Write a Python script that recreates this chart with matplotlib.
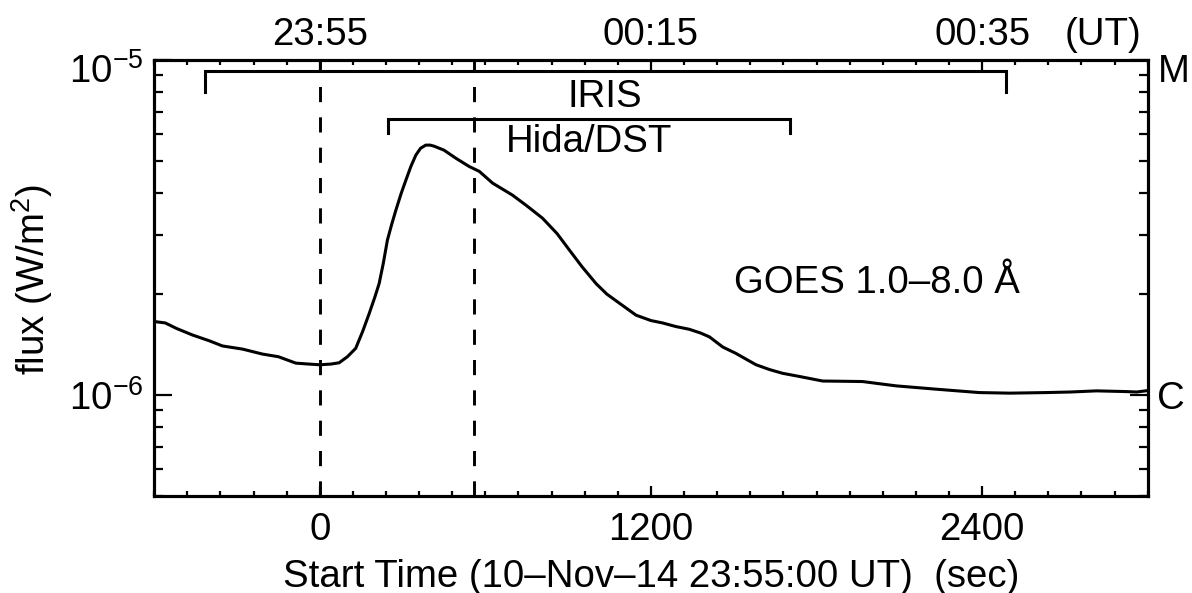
import matplotlib
matplotlib.use('Agg')
import matplotlib.pyplot as plt
import matplotlib.ticker as mticker
import matplotlib.transforms as mtransforms
import numpy as np

# ---------------- data ----------------
time_sec = [-600, -560, -520, -462, -400, -353, -280, -208, -150, -87, -40, 0,
            40, 70, 100, 130, 155, 179, 200, 215, 230, 245, 260, 276, 295, 312,
            330, 348, 365, 384, 400, 414, 450, 493, 541, 578, 626, 698, 750, 807,
            860, 904, 950, 1001, 1040, 1085, 1146, 1200, 1242, 1290, 1339, 1380,
            1412, 1460, 1508, 1545, 1581, 1630, 1677, 1738, 1822, 1900, 1967,
            2088, 2233, 2390, 2500, 2632, 2720, 2814, 2922, 2960, 3000]
flux = [1.656e-6, 1.64e-6, 1.58e-6, 1.51e-6, 1.45e-6, 1.40e-6, 1.37e-6, 1.324e-6,
        1.30e-6, 1.244e-6, 1.236e-6, 1.23e-6, 1.236e-6, 1.247e-6, 1.30e-6,
        1.377e-6, 1.545e-6, 1.75e-6, 1.965e-6, 2.15e-6, 2.47e-6, 2.90e-6,
        3.22e-6, 3.57e-6, 4.0e-6, 4.38e-6, 4.81e-6, 5.20e-6, 5.45e-6, 5.57e-6,
        5.57e-6, 5.53e-6, 5.38e-6, 5.09e-6, 4.81e-6, 4.65e-6, 4.29e-6, 3.95e-6,
        3.67e-6, 3.37e-6, 3.03e-6, 2.71e-6, 2.415e-6, 2.15e-6, 2.0e-6, 1.88e-6,
        1.73e-6, 1.667e-6, 1.64e-6, 1.60e-6, 1.57e-6, 1.53e-6, 1.49e-6, 1.39e-6,
        1.33e-6, 1.278e-6, 1.23e-6, 1.19e-6, 1.16e-6, 1.135e-6, 1.10e-6,
        1.098e-6, 1.096e-6, 1.064e-6, 1.04e-6, 1.016e-6, 1.012e-6, 1.016e-6,
        1.02e-6, 1.028e-6, 1.023e-6, 1.02e-6, 1.03e-6]

x_limits = [-600, 3000]
y_limits = [5e-7, 1e-5]
xtick_values = [0, 1200, 2400]
xtick_labels = ['0', '1200', '2400']
top_tick_labels = ['23:55', '00:15', '00:35']
ytick_values = [1e-6, 1e-5]
goes_class_labels = ['C', 'M']
dashed_times = [0, 560]
iris_range = [-417, 2487]
iris_levels = [9.27e-6, 8.02e-6]
hida_range = [246, 1703]
hida_levels = [6.65e-6, 6.05e-6]

# ---------------- style ----------------
plt.rcParams['font.family'] = ['Liberation Sans', 'DejaVu Sans']
plt.rcParams['mathtext.fontset'] = 'custom'
plt.rcParams['mathtext.rm'] = 'Liberation Sans'
plt.rcParams['mathtext.it'] = 'Liberation Sans:italic'
plt.rcParams['mathtext.bf'] = 'Liberation Sans:bold'
FS = 27.6

fig = plt.figure(figsize=(11.92, 5.93), dpi=100)
ax = fig.add_axes([0.1294, 0.1641, 0.8334, 0.7347])

ax.plot(time_sec, flux, color='black', lw=2.2, solid_joinstyle='round')
ax.set_yscale('log')
ax.set_xlim(x_limits)
ax.set_ylim(y_limits)

for t in dashed_times:
    ax.plot([t, t], y_limits, color='black', lw=2.1, linestyle=(0, (5.2, 5.2)))

# brackets
ax.plot([iris_range[0], iris_range[0], iris_range[1], iris_range[1]],
        [iris_levels[1], iris_levels[0], iris_levels[0], iris_levels[1]],
        color='black', lw=2.2, solid_joinstyle='miter')
ax.plot([hida_range[0], hida_range[0], hida_range[1], hida_range[1]],
        [hida_levels[1], hida_levels[0], hida_levels[0], hida_levels[1]],
        color='black', lw=2.2, solid_joinstyle='miter')

ax.text(1031, 7.24e-6, 'IRIS', fontsize=FS, ha='center', va='baseline')
ax.text(976, 5.31e-6, 'Hida/DST', fontsize=FS, ha='center', va='baseline')
ax.text(1502, 2.02e-6, 'GOES 1.0\u20138.0 \u00c5', fontsize=FS, ha='left', va='baseline')

for s in ax.spines.values():
    s.set_linewidth(2.2)

ax.xaxis.set_major_locator(mticker.FixedLocator(xtick_values))
ax.xaxis.set_major_formatter(mticker.FixedFormatter(xtick_labels))
ax.xaxis.set_minor_locator(mticker.MultipleLocator(120))
ax.yaxis.set_major_locator(mticker.FixedLocator(ytick_values))
ax.yaxis.set_minor_locator(mticker.LogLocator(base=10, subs=np.arange(2, 10)))
ax.yaxis.set_minor_formatter(mticker.NullFormatter())

ax.tick_params(axis='x', which='major', direction='in', length=7, width=1.6,
               labelsize=FS, pad=12)
ax.tick_params(axis='x', which='minor', direction='in', length=3.6, width=1.6)
ax.tick_params(axis='y', which='major', direction='in', length=13, width=1.6,
               labelsize=FS, pad=8)
ax.tick_params(axis='y', which='minor', direction='in', length=6.5, width=1.6)

# right axis (GOES class)
axr = ax.twinx()
axr.set_yscale('log')
axr.set_ylim(y_limits)
axr.yaxis.set_major_locator(mticker.FixedLocator(ytick_values))
axr.yaxis.set_major_formatter(mticker.FixedFormatter(goes_class_labels))
axr.yaxis.set_minor_locator(mticker.LogLocator(base=10, subs=np.arange(2, 10)))
axr.yaxis.set_minor_formatter(mticker.NullFormatter())
axr.tick_params(axis='y', which='major', direction='in', length=13, width=1.6,
                labelsize=FS, pad=7)
axr.tick_params(axis='y', which='minor', direction='in', length=6.5, width=1.6)

# top axis (UT)
axt = ax.twiny()
axt.set_xlim(x_limits)
axt.xaxis.set_major_locator(mticker.FixedLocator(xtick_values))
axt.xaxis.set_major_formatter(mticker.FixedFormatter(top_tick_labels))
axt.xaxis.set_minor_locator(mticker.MultipleLocator(120))
axt.tick_params(axis='x', which='major', direction='in', length=7, width=1.6,
                labelsize=FS, pad=5)
axt.tick_params(axis='x', which='minor', direction='in', length=3.6, width=1.6)
for a in (axr, axt):
    for s in a.spines.values():
        s.set_linewidth(2.2)

ax.text(2837, 1.0344, '(UT)', transform=ax.get_xaxis_transform(),
        fontsize=FS, ha='center', va='baseline')

ax.set_xlabel('Start Time (10\u2013Nov\u201314 23:55:00 UT)  (sec)', fontsize=FS,
              va='baseline')
ax.xaxis.set_label_coords(0.5, -0.2095)
ax.set_ylabel('flux (W/m$^2$)', fontsize=FS, va='baseline', ha='center',
              rotation_mode='anchor')
ax.yaxis.set_label_coords(-0.110, 0.495)

# shift the top-edge labels down a little, as in the reference
fig.canvas.draw()
off = mtransforms.ScaledTranslation(0, -8 / 100, fig.dpi_scale_trans)
for a in (ax, axr):
    ticks = a.yaxis.get_major_ticks()
    for tk in ticks:
        if abs(tk.get_loc() - 1e-5) < 1e-9:
            for lab in (tk.label1, tk.label2):
                lab.set_transform(lab.get_transform() + off)

fig.savefig('out.png', dpi=100)
